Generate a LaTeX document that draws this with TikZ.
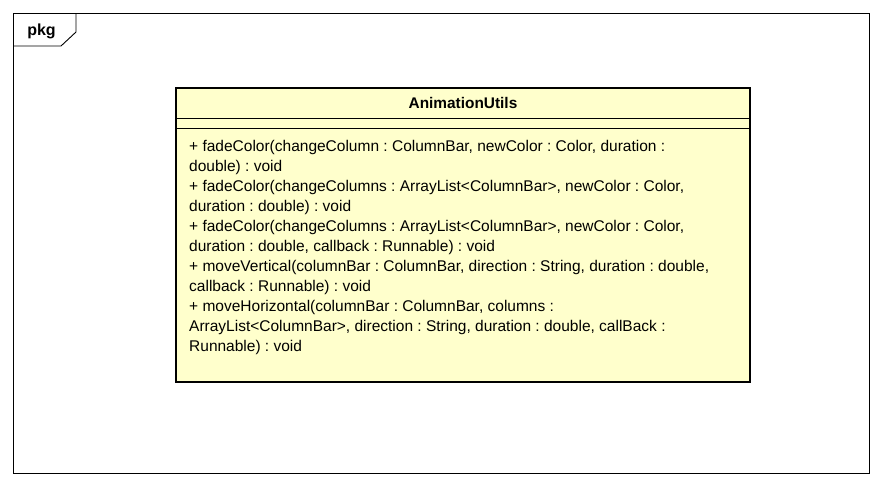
\documentclass[tikz,border=0pt]{standalone}
\usepackage{fontspec}
\setmainfont{Liberation Sans}
\definecolor{classfill}{HTML}{FFFFCC}
\begin{document}
\frenchspacing
\begin{tikzpicture}[x=1pt,y=-1pt,
  frameline/.style={draw=black,line width=0.9pt},
  classbox/.style={draw=black,line width=2.8pt,fill=classfill},
  sepline/.style={draw=black,line width=0.9pt},
  optext/.style={inner sep=0pt,align=left,font=\fontsize{15.5}{20}\selectfont\frenchspacing,anchor=north west},
  headtext/.style={inner sep=0pt,font=\bfseries\fontsize{15.4}{18}\selectfont}]
\useasboundingbox (0,0) rectangle (882,488);
\fill[white] (0,0) rectangle (882,488);
% package frame
\draw[frameline] (13,13) rectangle (869,473);
\draw[frameline] (13,46) -- (61,46) -- (76,32) -- (76,13);
\node[inner sep=0pt,font=\bfseries\fontsize{16}{18}\selectfont] (pkg) at (41.5,31) {pkg};
% class box
\draw[classbox] (176,88) rectangle (750,382);
\coordinate (sepAl) at (176,118);
\coordinate (sepAr) at (750,118);
\coordinate (sepBl) at (176,128);
\coordinate (sepBr) at (750,128);
\draw[sepline] (sepAl) -- (sepAr);
\draw[sepline] (sepBl) -- (sepBr);
\node[headtext] (title) at (463,103) {AnimationUtils};
\node[optext] (ops) at (189,140) {+ fadeColor(changeColumn : ColumnBar, newColor : Color, duration :\\
double) : void\\
+ fadeColor(changeColumns : ArrayList<ColumnBar>, newColor : Color,\\
duration : double) : void\\
+ fadeColor(changeColumns : ArrayList<ColumnBar>, newColor : Color,\\
duration : double, callback : Runnable) : void\\
+ moveVertical(columnBar : ColumnBar, direction : String, duration : double,\\
callback : Runnable) : void\\
+ moveHorizontal(columnBar : ColumnBar, columns :\\
ArrayList<ColumnBar>, direction : String, duration : double, callBack :\\
Runnable) : void};
\end{tikzpicture}
\end{document}
